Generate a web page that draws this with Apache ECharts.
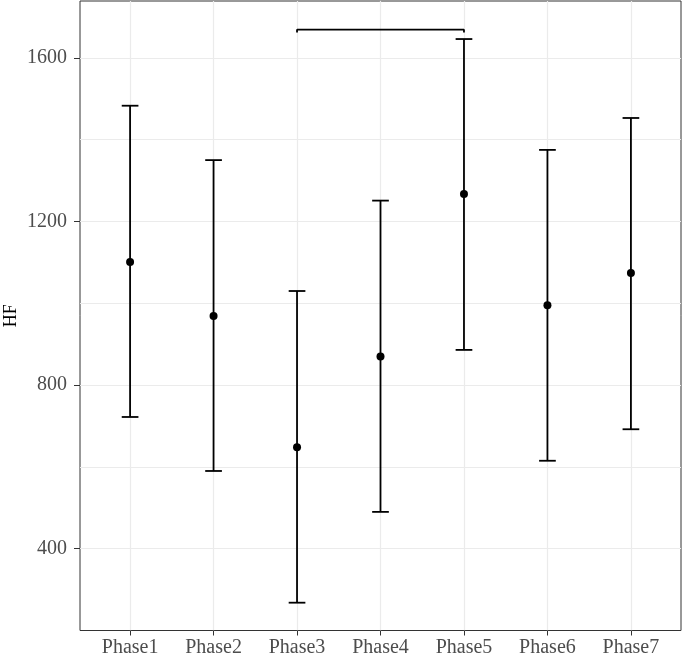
<!DOCTYPE html>
<html>
<head>
<meta charset="utf-8">
<script src="https://cdn.jsdelivr.net/npm/echarts@6/dist/echarts.min.js"></script>
<style>
html,body{margin:0;padding:0;background:#fff;}
#chart{width:684px;height:658px;}
</style>
</head>
<body>
<div id="chart"></div>
<script>
const categories = ['Phase1','Phase2','Phase3','Phase4','Phase5','Phase6','Phase7'];
const meanValues  = [1101, 969, 648, 870, 1267, 995, 1074];
const upperValues = [1483, 1350, 1030, 1251, 1646, 1375, 1453];
const lowerValues = [722, 590, 268, 490, 886, 615, 692];
const bracketFrom = 'Phase3';
const bracketTo = 'Phase5';
const bracketTop = 1669;
const bracketEnd = 1662;
const yTickLabels = [400, 800, 1200, 1600];
const yGridValues = [400, 600, 800, 1000, 1200, 1400, 1600];
const yTitle = 'HF';

const xPos = categories.map((c, i) => i + 1);
const FONT = '"Liberation Serif", "Times New Roman", serif';

const errData = categories.map((c, i) => [xPos[i], lowerValues[i], upperValues[i]]);
const meanData = categories.map((c, i) => [xPos[i], meanValues[i]]);
const bFrom = categories.indexOf(bracketFrom) + 1;
const bTo = categories.indexOf(bracketTo) + 1;
const bracketData = [[bFrom, bracketEnd], [bFrom, bracketTop], [bTo, bracketTop], [bTo, bracketEnd]];

const chart = echarts.init(document.getElementById('chart'), null, {renderer: 'canvas'});
chart.setOption({
  animation: false,
  backgroundColor: '#ffffff',
  grid: {left: 80, right: 3, top: 1, bottom: 27.5, containLabel: false, outerBoundsMode: 'none',
         show: true, borderColor: '#333333', borderWidth: 1, backgroundColor: 'transparent'},
  xAxis: {
    type: 'value', min: 0.4, max: 7.6,
    axisLine: {show: false},
    axisTick: {show: true, customValues: xPos, length: 5, lineStyle: {color: '#333333', width: 1}},
    axisLabel: {customValues: xPos, formatter: v => categories[Math.round(v) - 1] || '', color: '#4d4d4d', fontFamily: FONT, fontSize: 20, margin: 7},
    splitLine: {show: true, lineStyle: {color: '#ebebeb', width: 1.2}}
  },
  yAxis: [
    {
      type: 'value', min: 200, max: 1739,
      axisLine: {show: false},
      axisTick: {show: false, customValues: yGridValues},
      axisLabel: {show: false, customValues: yGridValues},
      splitLine: {show: true, lineStyle: {color: '#ebebeb', width: 1.2}}
    },
    {
      type: 'value', min: 200, max: 1739, position: 'left',
      axisLine: {show: false},
      axisTick: {show: true, customValues: yTickLabels, length: 6, lineStyle: {color: '#333333', width: 1}},
      axisLabel: {customValues: yTickLabels, formatter: v => String(v), color: '#4d4d4d', fontFamily: FONT, fontSize: 20, margin: 13},
      splitLine: {show: false},
      name: yTitle, nameLocation: 'middle', nameGap: 60, nameRotate: 90, nameMoveOverlap: false,
      nameTextStyle: {color: '#000000', fontFamily: FONT, fontSize: 18}
    }
  ],
  series: [
    {
      type: 'custom', yAxisIndex: 0, data: errData, z: 3,
      renderItem: function (params, api) {
        const x = api.value(0);
        const lo = api.coord([x, api.value(1)]);
        const hi = api.coord([x, api.value(2)]);
        const half = (api.coord([x + 0.1, 0])[0] - api.coord([x, 0])[0]);
        const st = {stroke: '#000000', lineWidth: 1.8, fill: null};
        return {type: 'group', children: [
          {type: 'line', shape: {x1: lo[0], y1: lo[1], x2: hi[0], y2: hi[1]}, style: st},
          {type: 'line', shape: {x1: hi[0] - half, y1: hi[1], x2: hi[0] + half, y2: hi[1]}, style: st},
          {type: 'line', shape: {x1: lo[0] - half, y1: lo[1], x2: lo[0] + half, y2: lo[1]}, style: st}
        ]};
      }
    },
    {
      type: 'scatter', yAxisIndex: 0, data: meanData, symbol: 'circle', symbolSize: 8, z: 4,
      itemStyle: {color: '#000000', opacity: 1}
    },
    {
      type: 'line', yAxisIndex: 0, data: bracketData, symbol: 'none', z: 3,
      lineStyle: {color: '#000000', width: 1.8}
    }
  ]
});
</script>
</body>
</html>
